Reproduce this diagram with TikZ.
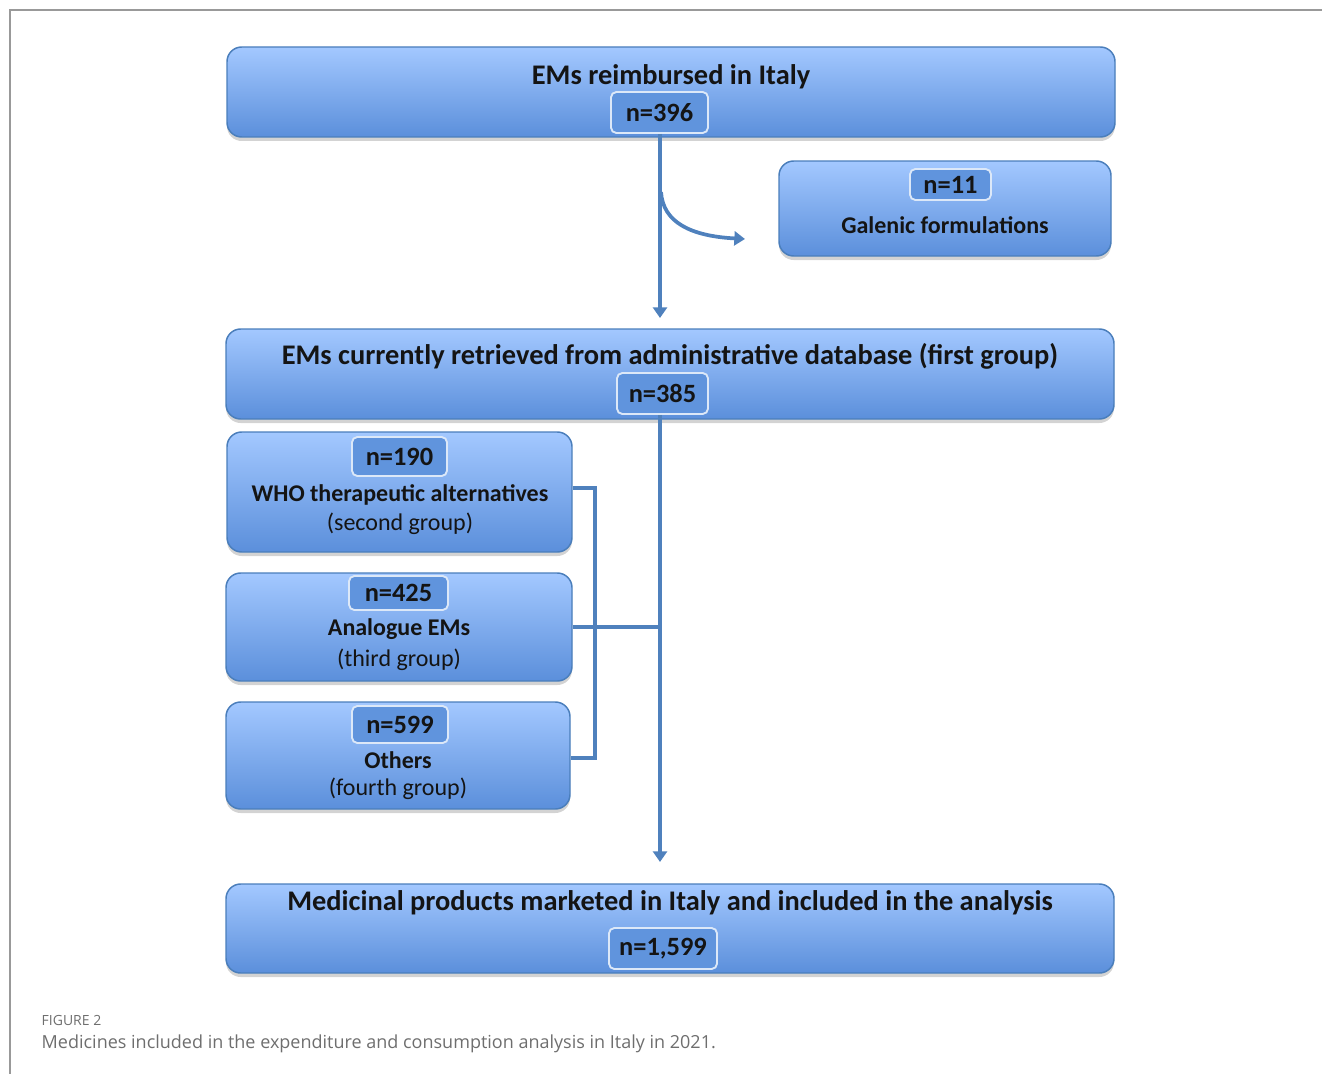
\documentclass[tikz,border=0pt]{standalone}
\usepackage{fontspec}
\setmainfont{Carlito}
\newfontfamily\capfont{Open Sans}
\usepackage{tikz}
\usetikzlibrary{arrows.meta, shadows}
\definecolor{boxtop}{HTML}{A3C8FF}
\definecolor{boxbot}{HTML}{5B8FDB}
\definecolor{boxline}{HTML}{4A7EBB}
\definecolor{badgefill}{HTML}{6094DD}
\definecolor{badgeline}{HTML}{DCE8F8}
\definecolor{flowcol}{HTML}{4F81BD}
\definecolor{capgray}{HTML}{6E6E6E}
\definecolor{ink}{HTML}{141414}

\begin{document}
\begin{tikzpicture}[
                x = 0.75pt, y = -0.75pt,
                box/.style = {rounded corners=11pt, draw=boxline, line width=1.1pt,
                              top color=boxtop, bottom color=boxbot,
                              drop shadow={shadow xshift=0pt, shadow yshift=-3pt, opacity=0.35}},
                badge/.style = {rounded corners=4pt, draw=badgeline, line width=1.4pt,
                                fill=badgefill, text=ink, font=\fontsize{19.8}{22}\selectfont\bfseries,
                                inner sep=0pt},
                title/.style = {text=ink, font=\fontsize{21.3}{24}\selectfont\bfseries},
                label/.style = {text=ink, font=\fontsize{18}{20}\selectfont\bfseries},
                sub/.style = {text=ink, font=\fontsize{18}{20}\selectfont},
                flow/.style = {draw=flowcol, line width=2.8pt, -{Triangle[width=10.5pt,length=8pt]}},
                link/.style = {draw=flowcol, line width=2.8pt}
                    ]
                \useasboundingbox (0,0) rectangle (1322,1074);
                \draw[gray!80, line width=1pt] (10,1074) |- (1322,10);
                % boxes
                \begin{scope}[nodes=box]
                \node (reimb) [minimum width=666pt, minimum height=67.5pt] at (671,92) {};
                \node (galen) [minimum width=249pt, minimum height=71.25pt] at (945,208.5) {};
                \node (first) [minimum width=666pt, minimum height=67.5pt] at (670,374) {};
                \node (who) [minimum width=258.75pt, minimum height=90pt] at (399.5,492) {};
                \node (analog) [minimum width=259.5pt, minimum height=81pt] at (399,627) {};
                \node (others) [minimum width=258pt, minimum height=80.25pt] at (398,755.5) {};
                \node (market) [minimum width=666pt, minimum height=66.75pt] at (670,928.5) {};
                \end{scope}
                % texts
                \node[title] (treimb) at (671,77) {EMs reimbursed in Italy};
                \node[label] (tgalen) at (945,225) {Galenic formulations};
                \node[title] (tfirst) at (670,356) {EMs currently retrieved from administrative database (first group)};
                \node[label] (twho) at (400,495) {WHO therapeutic alternatives};
                \node[sub] (swho) at (400,524) {(second group)};
                \node[label] (tanalog) at (399,629) {Analogue EMs};
                \node[sub] (sanalog) at (399,660) {(third group)};
                \node[label] (tothers) at (398,760) {Others};
                \node[sub] (sothers) at (398,789) {(fourth group)};
                \node[title] (tmarket) at (670,903) {Medicinal products marketed in Italy and included in the analysis};
                % counts
                \node[badge, minimum width=72.75pt, minimum height=30.75pt] (b396) at (659.5,112.5) {n=396};
                \node[badge, minimum width=60.75pt, minimum height=23.25pt] (b11) at (950.5,184.5) {n=11};
                \node[badge, minimum width=68.25pt, minimum height=30.75pt] (b385) at (662.5,393.5) {n=385};
                \node[badge, minimum width=71.25pt, minimum height=29.25pt] (b190) at (399.5,456.5) {n=190};
                \node[badge, minimum width=74.25pt, minimum height=25.5pt] (b425) at (398.5,593) {n=425};
                \node[badge, minimum width=72pt, minimum height=27.75pt] (b599) at (400,724.5) {n=599};
                \node[badge, minimum width=81pt, minimum height=30.75pt] (b1599) at (663,948.5) {n=1,599};
                % connectors
                \coordinate (a1) at (660,318);
                \coordinate (c0) at (661,192);
                \coordinate (c1) at (745,239);
                \coordinate (a2) at (660,862);
                \coordinate (j) at (660,627);
                \coordinate (k1) at (595,488);
                \coordinate (k2) at (595,758);
                \draw[flow] (b396.south -| a1) -- (a1);
                \draw[flow] (c0) .. controls (663,222) and (690,236) .. (c1);
                \draw[flow] (b385.south -| a2) -- (a2);
                \draw[link] (who.east |- k1) -- (k1) -- (k2) -- (others.east |- k2);
                \draw[link] (analog.east) -- (j);
                % caption
                \node[anchor=west, text=capgray, font=\capfont\fontsize{10.5}{12}\selectfont] (fig) at (37,1020) {FIGURE 2};
                \node[anchor=west, text=capgray, font=\capfont\fontsize{13.5}{15}\selectfont] (cap) at (37,1044) {Medicines included in the expenditure and consumption analysis in Italy in 2021.};
            \end{tikzpicture}
\end{document}
